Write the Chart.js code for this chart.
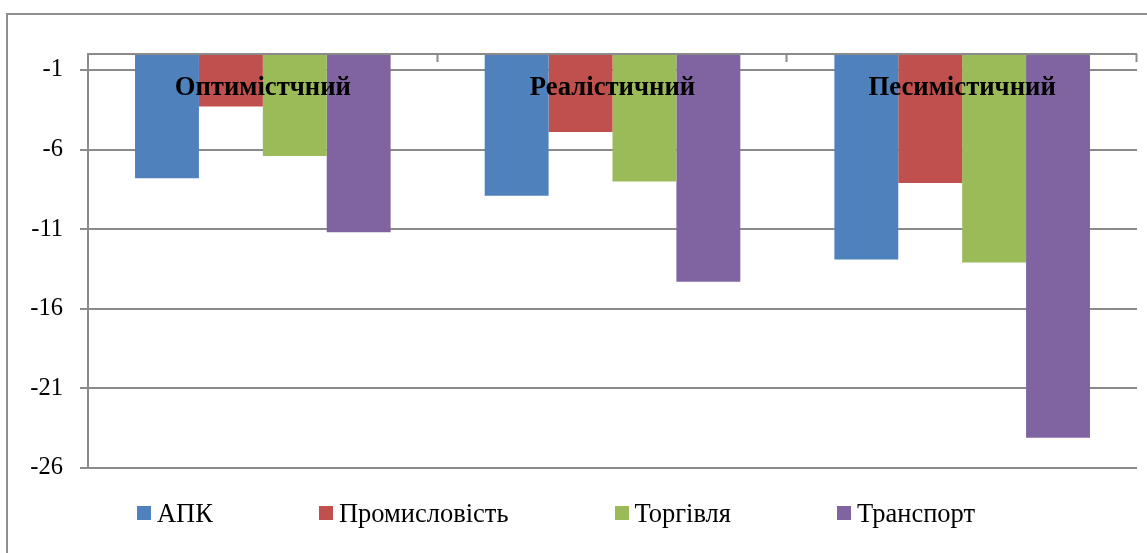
<!DOCTYPE html>
<html>
<head>
<meta charset="utf-8">
<script src="https://cdn.jsdelivr.net/npm/chart.js@4.4.1/dist/chart.umd.min.js"></script>
<style>
  html, body { margin: 0; padding: 0; background: #ffffff; overflow: hidden; }
  #wrap { position: relative; width: 1147px; height: 553px; }
  #frame { position: absolute; left: 6px; top: 13px; width: 3000px; height: 3000px;
           border-left: 2px solid #8e8e8e; border-top: 2px solid #8e8e8e; }
  canvas { position: absolute; left: 0; top: 0; }
</style>
</head>
<body>
<div id="wrap">
  <div id="frame"></div>
  <canvas id="c" width="1147" height="553"></canvas>
</div>
<script>
// ---- data ----
const categories = ['Оптимістчний', 'Реалістичний', 'Песимістичний'];
const seriesNames = ['АПК', 'Промисловість', 'Торгівля', 'Транспорт'];
const apk       = [-7.8, -8.9, -12.9];
const industry  = [-3.3, -4.9, -8.1];
const trade     = [-6.4, -8.0, -13.1];
const transport = [-11.2, -14.3, -24.1];
const yTicks = [0, -1, -6, -11, -16, -21, -26];
const yMin = -26, yMax = 0;

const colors = ['#4F81BD', '#C0504D', '#9BBB59', '#8064A2'];
const FONT = "'Liberation Serif', 'Times New Roman', serif";
const GRID = '#8a8a8a';

const seriesValues = [apk, industry, trade, transport];

const catLabelPlugin = {
  id: 'catLabels',
  afterDatasetsDraw(chart) {
    const ctx = chart.ctx;
    const x = chart.scales.x;
    const area = chart.chartArea;
    ctx.save();
    // category boundary ticks on the zero line
    ctx.strokeStyle = GRID;
    ctx.lineWidth = 2;
    const step = (area.right - area.left) / categories.length;
    for (let i = 1; i <= categories.length; i++) {
      const bx = Math.round(area.left + step * i) - 0.5;
      ctx.beginPath();
      ctx.moveTo(bx, area.top);
      ctx.lineTo(bx, area.top + 8);
      ctx.stroke();
    }
    // category labels
    ctx.fillStyle = '#000000';
    ctx.font = "bold 28px " + FONT;
    ctx.textAlign = 'center';
    ctx.textBaseline = 'middle';
    const sx = 0.953;
    categories.forEach((c, i) => {
      ctx.save();
      ctx.translate(x.getPixelForValue(i), area.top + 34);
      ctx.scale(sx, 1);
      ctx.fillText(c, 0, 0);
      ctx.restore();
    });
    ctx.restore();
  }
};

const legendPlugin = {
  id: 'customLegend',
  afterDraw(chart) {
    const ctx = chart.ctx;
    ctx.save();
    ctx.font = "26.5px " + FONT;
    ctx.textBaseline = 'middle';
    ctx.textAlign = 'left';
    const box = 14, gapText = 6, gapItem = 106;
    const ds = chart.data.datasets;
    const widths = ds.map(d => box + gapText + ctx.measureText(d.label).width);
    const total = widths.reduce((a, b) => a + b, 0) + gapItem * (ds.length - 1);
    let xx = 556 - total / 2;
    const cy = 513;
    ds.forEach((d, i) => {
      ctx.fillStyle = d.backgroundColor;
      ctx.fillRect(Math.round(xx), cy - 7, box, box);
      ctx.fillStyle = '#000000';
      ctx.fillText(d.label, xx + box + gapText, cy + 2);
      xx += widths[i] + gapItem;
    });
    ctx.restore();
  }
};

new Chart(document.getElementById('c'), {
  type: 'bar',
  data: {
    labels: categories,
    datasets: seriesNames.map((n, i) => ({
      label: n,
      data: seriesValues[i],
      backgroundColor: colors[i],
      borderWidth: 0,
      categoryPercentage: 0.731,
      barPercentage: 1.0
    }))
  },
  options: {
    responsive: false,
    animation: false,
    layout: { padding: { left: 0, right: 10, top: 54, bottom: 85 } },
    plugins: {
      legend: { display: false },
      tooltip: { enabled: false }
    },
    scales: {
      x: {
        display: false
      },
      y: {
        min: yMin,
        max: yMax,
        afterBuildTicks(scale) {
          scale.ticks = yTicks.map(v => ({ value: v }));
        },
        afterFit(scale) { scale.width = 88; },
        ticks: {
          color: '#000000',
          font: { family: FONT, size: 24.5 },
          padding: 17,
          callback: (v) => v === 0 ? '' : String(v)
        },
        grid: {
          color: GRID,
          lineWidth: 2,
          tickLength: 8,
          tickColor: (ctx) => (ctx.tick && ctx.tick.value === 0) ? 'rgba(0,0,0,0)' : GRID
        },
        border: { display: true, color: GRID, width: 2 }
      }
    }
  },
  plugins: [catLabelPlugin, legendPlugin]
});
</script>
</body>
</html>
